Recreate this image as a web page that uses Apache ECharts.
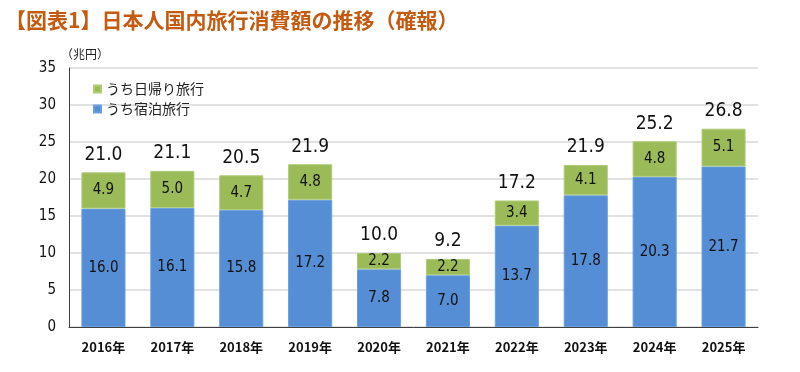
<!DOCTYPE html>
<html><head><meta charset="utf-8">
<script src="https://cdn.jsdelivr.net/npm/echarts@6/dist/echarts.min.js"></script>
<style>html,body{margin:0;padding:0;background:#fff}#c{width:800px;height:372px}</style>
</head><body><div id="c"></div>
<script>
const categories = ['2016年','2017年','2018年','2019年','2020年','2021年','2022年','2023年','2024年','2025年'];
const stayValues = [16.0,16.1,15.8,17.2,7.8,7.0,13.7,17.8,20.3,21.7];
const dayValues = [4.9,5.0,4.7,4.8,2.2,2.2,3.4,4.1,4.8,5.1];
const totalValues = [21.0,21.1,20.5,21.9,10.0,9.2,17.2,21.9,25.2,26.8];
const yTicks = [0,5,10,15,20,25,30,35];

const narrow = '"DejaVu Sans Condensed", "Liberation Sans Narrow", sans-serif';
const jp = '"Noto Sans CJK JP", sans-serif';
const chart = echarts.init(document.getElementById('c'));
chart.setOption({
  animation: false,
  title: {
    text: '【図表1】日本人国内旅行消費額の推移（確報）',
    left: 0, top: 5,
    textStyle: {color: '#c55a11', fontSize: 21, fontWeight: 'bold', fontFamily: jp}
  },
  legend: {
    data: ['うち日帰り旅行','うち宿泊旅行'],
    orient: 'vertical', left: 88, top: 77, itemGap: 6,
    itemWidth: 7, itemHeight: 7, icon: 'rect',
    textStyle: {fontSize: 14, color: '#222', fontFamily: jp}
  },
  grid: {left: 69, right: 42, top: 68, bottom: 45, containLabel: false},
  xAxis: {
    type: 'category', data: categories,
    axisLine: {lineStyle: {color: '#404040', width: 1}},
    axisTick: {show: false},
    axisLabel: {fontSize: 13, fontWeight: 'bold', color: '#111', margin: 14, fontFamily: jp}
  },
  yAxis: {
    type: 'value', min: yTicks[0], max: yTicks[yTicks.length-1], interval: 5,
    name: '（兆円）', nameLocation: 'end', nameGap: 5,
    nameTextStyle: {fontSize: 12, color: '#222', align: 'left', padding: [0,0,0,-8], fontFamily: jp},
    axisLine: {show: true, lineStyle: {color: '#404040'}},
    axisTick: {show: false},
    axisLabel: {fontSize: 15, color: '#111', margin: 13, fontFamily: narrow},
    splitLine: {lineStyle: {color: '#d9d9d9', width: 1.5}}
  },
  series: [
    {
      name: 'うち宿泊旅行', type: 'bar', stack: 'a', data: stayValues, barWidth: '64%',
      itemStyle: {color: '#558ed5', borderColor: '#6a9fe0', borderWidth: 1},
      label: {show: true, position: 'inside', fontSize: 15, color: '#111', fontFamily: narrow,
        formatter: p => p.value.toFixed(1)}
    },
    {
      name: 'うち日帰り旅行', type: 'bar', stack: 'a', data: dayValues,
      itemStyle: {color: '#9bbb59', borderColor: '#b0cc78', borderWidth: 1},
      label: {show: true, position: 'inside', fontSize: 15, color: '#111', fontFamily: narrow,
        formatter: p => p.value.toFixed(1)}
    },
    {
      name: 'total', type: 'bar', stack: 'a', data: totalValues.map(() => 0),
      itemStyle: {color: 'transparent'},
      label: {show: true, position: 'top', distance: 8, fontSize: 19, color: '#111', fontFamily: narrow,
        formatter: p => totalValues[p.dataIndex].toFixed(1)}
    }
  ]
});
</script></body></html>
